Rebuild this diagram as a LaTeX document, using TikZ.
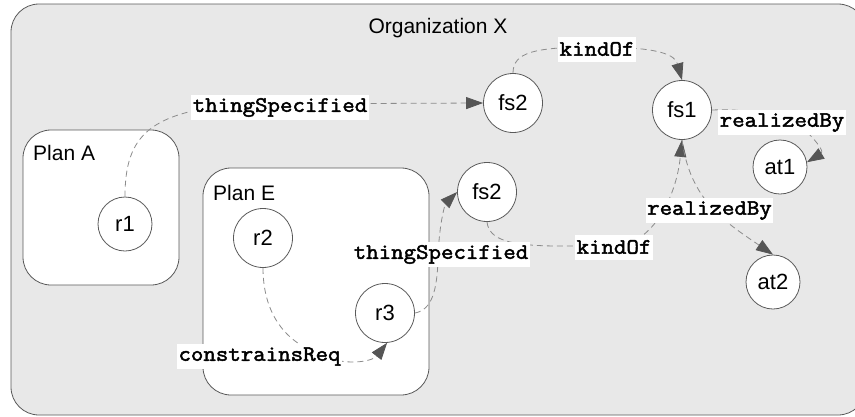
\documentclass[tikz,border=0pt]{standalone}
\usepackage{fontspec}
\setmainfont{Liberation Sans}
\newfontfamily\relfont{Latin Modern Mono}[FakeBold=2.2, FakeStretch=1.1]
\usetikzlibrary{arrows.meta}

\definecolor{orgfill}{HTML}{E8E8E8}
\definecolor{edgegray}{HTML}{8C8C8C}
\definecolor{tipgray}{HTML}{555555}
\definecolor{linegray}{HTML}{5A5A5A}

\begin{document}
\begin{tikzpicture}[x=1pt,y=-1pt,
  container/.style={draw=linegray, line width=0.8pt, rounded corners=28pt},
  state/.style={circle, draw=linegray, fill=white, line width=0.8pt,
    minimum size=59pt, inner sep=0pt, font=\fontsize{22}{24}\selectfont},
  smallstate/.style={state, minimum size=54pt},
  rel/.style={draw=edgegray, line width=0.8pt, dash pattern=on 6pt off 4pt,
    -{Triangle[length=17pt,width=12pt,color=tipgray,fill=tipgray]}},
  lbl/.style={fill=white, inner xsep=1.5pt, inner ysep=0pt, minimum height=25pt,
    font=\fontsize{22}{22}\relfont},
  title/.style={inner sep=0pt, anchor=base west, font=\fontsize{21}{24}\selectfont}
]
\useasboundingbox (0,0) rectangle (855,416);

% containers
\draw[container, fill=orgfill] (11,4) rectangle (866,415);
\node[title, anchor=base] (org) at (438,33) {Organization X};
\draw[container, fill=white] (23,130) rectangle (179,285);
\node[title] (planA) at (33,160) {Plan A};
\draw[container, fill=white] (203,168) rectangle (429,395);
\node[title] (planE) at (213,200) {Plan E};

% states
\node[smallstate] (r1) at (125,224) {r1};
\node[state] (r2) at (263,238) {r2};
\node[state] (r3) at (385,313) {r3};
\node[state] (fsA) at (513,103) {fs2};
\node[state] (fs1) at (682,110) {fs1};
\node[smallstate] (at1) at (780,167) {at1};
\node[state] (fsB) at (487,192) {fs2};
\node[smallstate] (at2) at (773,282) {at2};

% relations
\draw[rel] (r1.north) .. controls (125,135) and (150,112) .. (240,104) -- (fsA.west);
\draw[rel] (fsA.north) .. controls (513,52) and (535,47) .. (597,47)
  .. controls (660,47) and (675,55) .. (fs1.north);
\draw[rel] (fs1.east) .. controls (760,108) and (795,120) .. (808,133)
  .. controls (818,143) and (824,152) .. (at1.10);
\draw[rel] (fsB.south) .. controls (489,240) and (510,246) .. (560,246) -- (614,246)
  .. controls (650,246) and (676,200) .. (fs1.south);
\draw[rel] (fs1.south) .. controls (690,200) and (725,222) .. (at2.north);
\draw[rel] (r3.east) .. controls (432,310) and (437,290) .. (438,260)
  .. controls (439,220) and (446,203) .. (fsB.west);
\draw[rel] (r2.south) .. controls (263,305) and (278,335) .. (310,350)
  .. controls (340,368) and (372,362) .. (r3.-86);

% relation labels
\node[lbl] (l1) at (280,107.5) {thingSpecified};
\node[lbl] (l2) at (597,49) {kindOf};
\node[lbl] (l3) at (782,122.5) {realizedBy};
\node[lbl] (l4) at (709.5,210.5) {realizedBy};
\node[lbl] (l5) at (614,247) {kindOf};
\node[lbl] (l6) at (441,254.5) {thingSpecified};
\node[lbl] (l7) at (259.5,356.5) {constrainsReq};
\end{tikzpicture}
\end{document}
